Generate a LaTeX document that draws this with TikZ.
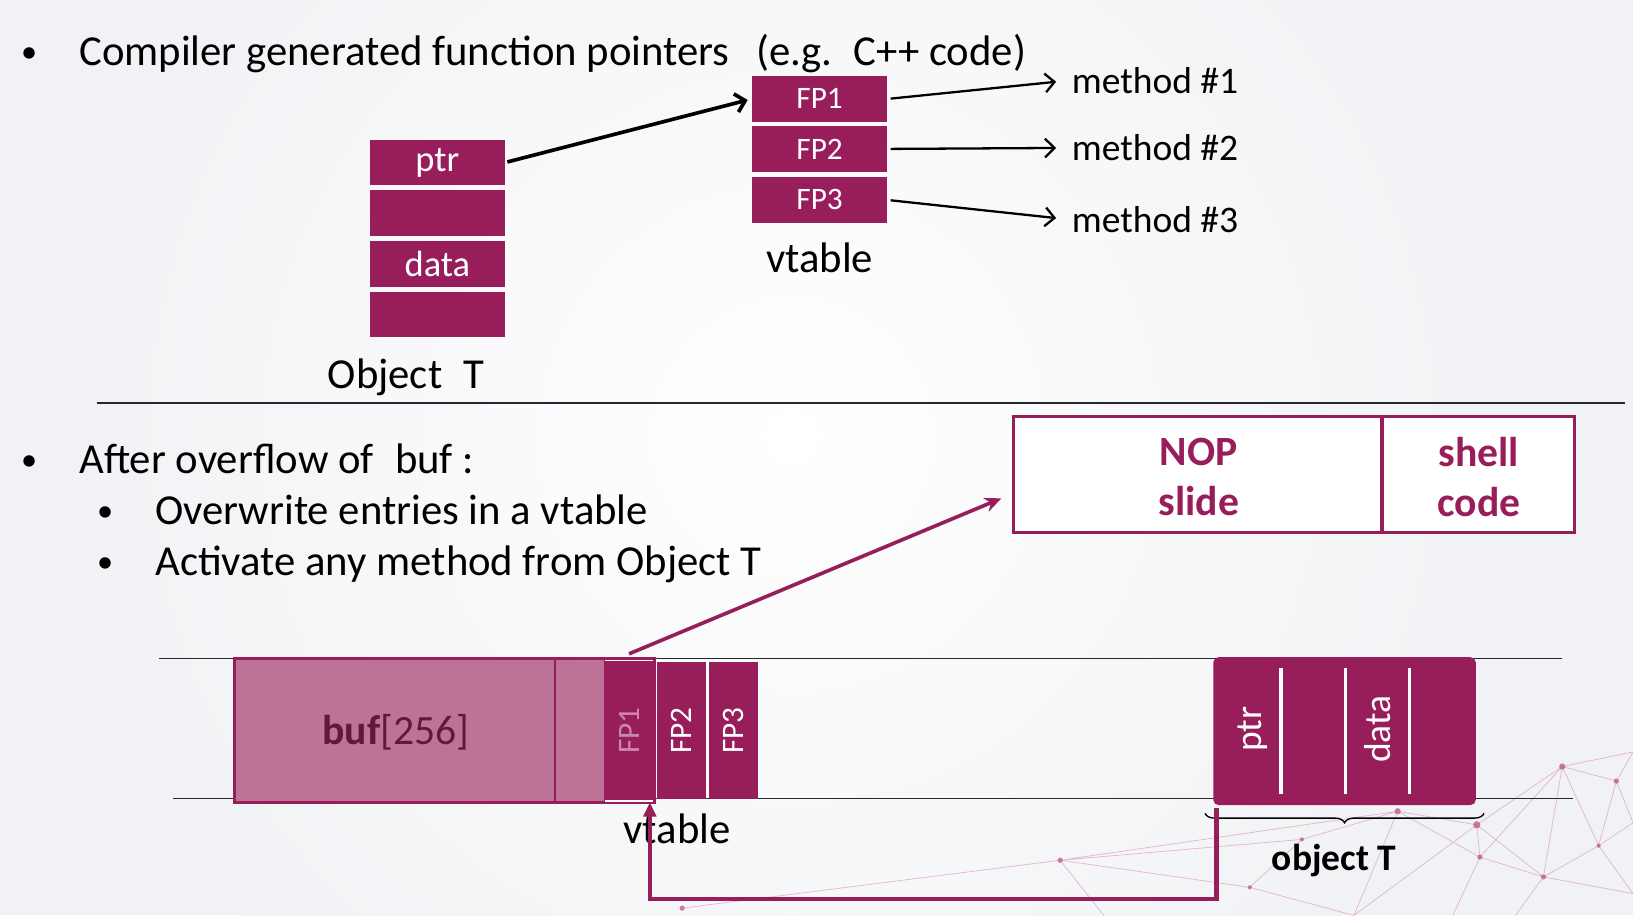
\documentclass[tikz,border=0pt]{standalone}
\usepackage{fontspec}
\setmainfont{Carlito}
\usetikzlibrary{arrows.meta,decorations.pathreplacing}
\definecolor{mag}{RGB}{152,30,91}
\definecolor{mauve}{RGB}{189,115,150}
\definecolor{bufdark}{RGB}{98,24,60}
\definecolor{fpfade}{RGB}{205,135,170}
\definecolor{netpink}{RGB}{226,160,192}
\definecolor{bgcol}{RGB}{241,242,245}
\definecolor{rulegray}{RGB}{40,40,44}
\begin{document}
\begin{tikzpicture}[x=1pt,y=-1pt,
  txt/.style={inner sep=0pt, font=\fontsize{41}{48}\selectfont},
  bul/.style={inner sep=0pt, font=\fontsize{31}{31}\selectfont},
  ocell/.style={fill=mag, inner sep=0pt, minimum width=130pt, minimum height=44pt, text=white, font=\fontsize{35}{35}\selectfont},
  vcell/.style={ocell, font=\fontsize{30}{30}\selectfont},
  rcell/.style={fill=mag, inner sep=0pt, rotate=90, text=white, font=\fontsize{30}{30}\selectfont},
  blkarrow/.style={draw=black, line width=2.2pt, -{Straight Barb[length=9pt,width=18pt]}},
  netline/.style={draw=netpink, line width=0.7pt, opacity=0.75},
  netdot/.style={fill=mag!70, opacity=0.8},
  memline/.style={draw=rulegray, line width=1.3pt},
  payload/.style={draw=mag, line width=3pt, fill=white, inner sep=0pt, text=mag, align=center, font=\bfseries\fontsize{40}{48}\selectfont},
]
\useasboundingbox (0,0) rectangle (1568,879);
% background
\begin{scope}
\clip (0,0) rectangle (1568,879);
\fill[bgcol] (0,0) rectangle (1568,879);
\shade[inner color=white, outer color=bgcol] (760,420) circle (700pt);
\end{scope}

% network decoration
\coordinate (n1) at (1500,736);
\coordinate (n2) at (1552,750);
\coordinate (n3) at (1342,779);
\coordinate (n4) at (1418,792);
\coordinate (n5) at (1421,823);
\coordinate (n6) at (1482,842);
\coordinate (n7) at (1018,826);
\coordinate (n8) at (1060,879);
\coordinate (n9) at (1250,806);
\coordinate (n10) at (1395,879);
\coordinate (n11) at (1535,812);
\coordinate (n12) at (1568,722);
\coordinate (n13) at (1300,879);
\coordinate (n14) at (1455,879);
\coordinate (n15) at (1200,852);
\coordinate (n16) at (1568,858);
\coordinate (n17) at (655,872);
\coordinate (n18) at (1568,790);
\draw[netline] (n1)--(n2) (n1)--(n4) (n1)--(n5) (n1)--(n6) (n1)--(n11) (n1)--(n12)
  (n2)--(n11) (n2)--(n18) (n4)--(n3) (n4)--(n5) (n4)--(n6) (n3)--(n7) (n3)--(n9)
  (n7)--(n8) (n7)--(n15) (n9)--(n15) (n5)--(n6) (n5)--(n10) (n6)--(n11) (n6)--(n14)
  (n6)--(n16) (n3)--(n13) (n4)--(n13) (n11)--(n16) (n7)--(n9) (n15)--(n13)
  (n17)--(n7) (n3)--(n5) (n11)--(n18) (n12)--(n2);
\foreach \p/\r in {n1/3,n2/2.5,n3/3,n4/3.5,n5/2.5,n6/2.5,n7/2.5,n9/2,n11/2,n15/2,n17/2.5}
  \fill[netdot] (\p) circle (\r pt);

% ---------- top part ----------
\node[bul, anchor=base] (b1) at (28,60) {•};
\node[txt, anchor=base west] (t1) at (76,63) {Compiler generated function pointers};
\node[txt, anchor=base west] (t1b) at (726,63) {(e.g.\enspace C++ code)};

\node[ocell] (ptr) at (420,156) {ptr};
\node[ocell] (o2) at (420,204.7) {};
\node[ocell] (data) at (420,253.3) {data};
\node[ocell] (o4) at (420,302) {};
\node[txt, anchor=base] (objlbl) at (390,373) {Object\enspace T};

\node[vcell] (fp1) at (787,95) {FP1};
\node[vcell] (fp2) at (787,143) {FP2};
\node[vcell] (fp3) at (787,192) {FP3};
\node[txt, anchor=base] (vt1) at (787,262) {vtable};

\node[inner sep=0pt, anchor=west, font=\fontsize{36}{36}\selectfont] (m1) at (1029,77) {method \#1};
\node[inner sep=0pt, anchor=west, font=\fontsize{36}{36}\selectfont] (m2) at (1029,142) {method \#2};
\node[inner sep=0pt, anchor=west, font=\fontsize{36}{36}\selectfont] (m3) at (1029,211) {method \#3};

\draw[blkarrow, line width=3.5pt, shorten <=2pt, shorten >=4pt] (ptr.east) -- (fp1.west);
\draw[blkarrow, shorten <=3pt, shorten >=15pt] (fp1.east) -- (m1.west);
\draw[blkarrow, shorten <=3pt, shorten >=15pt] (fp2.east) -- (m2.west);
\draw[blkarrow, shorten <=3pt, shorten >=15pt] (fp3.east) -- (m3.west);

\coordinate (r1) at (93,387);
\coordinate (r2) at (1560,387);
\draw[memline] (r1) -- (r2);

% ---------- bottom part ----------
\node[bul, anchor=base] (b2) at (28,452) {•};
\node[txt, anchor=base west] (t2) at (76,455) {After overflow of\enspace buf :};
\node[bul, anchor=base] (b3) at (101,501) {•};
\node[txt, anchor=base west] (t3) at (149,504) {Overwrite entries in a vtable};
\node[bul, anchor=base] (b4) at (101,550) {•};
\node[txt, anchor=base west] (t4) at (149,553) {Activate any method from Object T};

\node[payload, minimum width=354pt, minimum height=111pt] (nop) at (1150,455.5) {};
\node[payload, minimum width=185pt, minimum height=111pt] (shell) at (1419.5,455.5) {};
\node[payload, draw=none, fill=none] (noplbl) at (1151,458) {NOP\\slide};
\node[payload, draw=none, fill=none] (shelllbl) at (1420,458) {shell\\code};

% memory lines
\coordinate (ta) at (153,632);
\coordinate (tb) at (1500,632);
\coordinate (ba) at (166,767);
\coordinate (bb) at (1510,767);
\draw[memline] (ta) -- (tb);
\draw[memline] (ba) -- (bb);

% buffer and vtable
\node[fill=mauve, draw=mag, line width=2pt, minimum width=307pt, minimum height=137pt, inner sep=0pt] (buf) at (379.5,701.5) {};
\node[anchor=base, inner sep=0pt, text=bufdark, font=\fontsize{40}{40}\selectfont] (buflbl) at (380,715) {\textbf{buf}[256]};
\node[fill=mauve, draw=mag, line width=1pt, minimum width=47pt, minimum height=137pt, inner sep=0pt] (pad) at (556.5,701.5) {};
\node[rcell, minimum width=133pt, minimum height=48pt, text=fpfade] (fpa) at (604,701.5) {FP1};
\node[rcell, minimum width=131pt, minimum height=47pt] (fpb) at (654.5,701.5) {FP2};
\node[rcell, minimum width=131pt, minimum height=47pt] (fpc) at (704.5,701.5) {FP3};
\draw[mag, line width=2.5pt] (buf.north west) rectangle (fpa.south west |- buf.south);
\node[txt, anchor=base] (vt2) at (650,810) {vtable};

% object T
\node[fill=mag, rounded corners=5pt, minimum width=252pt, minimum height=142pt, inner sep=0pt] (objT) at (1291,702) {};
\foreach \x in {1230,1292,1353}
  \draw[white, line width=3pt] (\x,641) -- (\x,762);
\node[rcell, fill=none, font=\fontsize{36}{36}\selectfont] (optr) at (1203,700) {ptr};
\node[rcell, fill=none, font=\fontsize{36}{36}\selectfont] (odata) at (1323,700) {data};

\coordinate (brl) at (1157,781);
\coordinate (brr) at (1425,781);
\draw[black, line width=1.3pt, decorate, decoration={brace, mirror, amplitude=9pt, aspect=0.5}] (brl) -- (brr);
\node[anchor=base, inner sep=0pt, font=\bfseries\fontsize{36}{36}\selectfont] (objTl) at (1281,836) {object T};

% arrows
\draw[mag, line width=3.5pt, -{Stealth[length=16pt,width=14pt]}] ([yshift=7pt]fpa.east) -- ([xshift=-10pt,yshift=-23pt]nop.west);
\draw[mag, line width=4.5pt, -{Triangle[length=14pt,width=12pt]}] ([xshift=3pt,yshift=-3pt]objT.south west) -- ++(0,87) -| ([xshift=20pt,yshift=-2pt]fpa.west);
\end{tikzpicture}
\end{document}
